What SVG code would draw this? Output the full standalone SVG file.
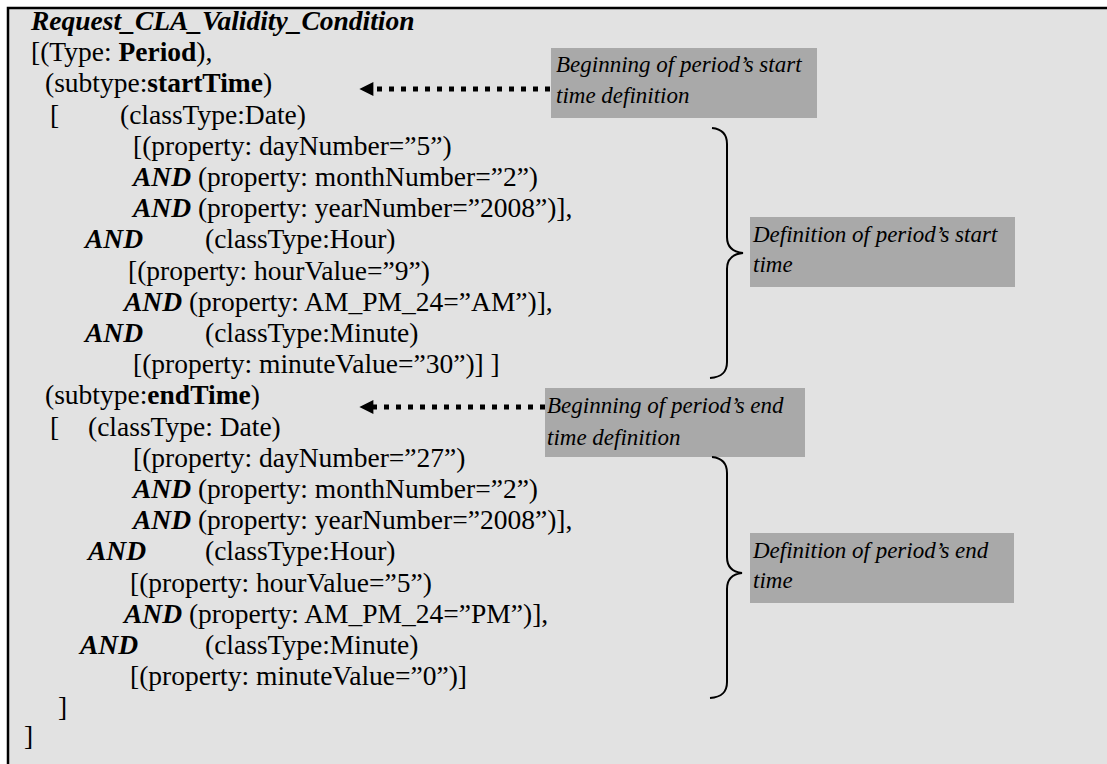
<svg xmlns="http://www.w3.org/2000/svg" width="1107" height="764" viewBox="0 0 1107 764">
  <style>
    .code { font-family: "Liberation Serif", "Times New Roman", serif; font-size: 27.5px; fill: #000; }
    .b { font-weight: bold; }
    .bi { font-weight: bold; font-style: italic; }
    .note { font-family: "Liberation Serif", "Times New Roman", serif; font-size: 23px; font-style: italic; fill: #000; }
    .notebox { fill: #a9a9a9; }
    .brace { fill: none; stroke: #000; stroke-width: 2; }
    .dots { stroke: #000; stroke-width: 5; stroke-dasharray: 5 7; }
  </style>
  <defs>
    <marker id="head" viewBox="0 0 10 10" refX="1" refY="5" markerWidth="3.6" markerHeight="2.8" markerUnits="strokeWidth" orient="auto-start-reverse">
      <path d="M0,0 L10,5 L0,10 Z" fill="#000"/>
    </marker>
  </defs>

  <!-- page -->
  <rect x="0" y="0" width="1107" height="764" fill="#fff"/>
  <rect x="8" y="8" width="1099" height="756" fill="#e2e2e2"/>
  <path d="M8,764 L8,8 L1107,8" fill="none" stroke="#000" stroke-width="2.5"/>

  <!-- condition listing -->
  <g id="condition" class="code">
    <text x="31" y="30" class="bi">Request_CLA_Validity_Condition</text>
    <text x="31" y="61.2">[(Type: <tspan class="b">Period</tspan>),</text>
    <text x="45" y="92.4">(subtype:<tspan class="b">startTime</tspan>)</text>
    <text x="50" y="123.6">[</text>
    <text x="120" y="123.6">(classType:Date)</text>
    <text x="133" y="154.8">[(property: dayNumber=”5”)</text>
    <text x="133" y="186"><tspan class="bi">AND</tspan> (property: monthNumber=”2”)</text>
    <text x="133" y="217.2"><tspan class="bi">AND</tspan> (property: yearNumber=”2008”)],</text>
    <text x="85" y="248.4" class="bi">AND</text>
    <text x="205" y="248.4">(classType:Hour)</text>
    <text x="128" y="279.6">[(property: hourValue=”9”)</text>
    <text x="124" y="310.8"><tspan class="bi">AND</tspan> (property: AM_PM_24=”AM”)],</text>
    <text x="85" y="342" class="bi">AND</text>
    <text x="205" y="342">(classType:Minute)</text>
    <text x="133" y="373.2">[(property: minuteValue=”30”)] ]</text>
    <text x="45" y="404.4">(subtype:<tspan class="b">endTime</tspan>)</text>
    <text x="50" y="435.6">[</text>
    <text x="88" y="435.6">(classType: Date)</text>
    <text x="133" y="466.8">[(property: dayNumber=”27”)</text>
    <text x="133" y="498"><tspan class="bi">AND</tspan> (property: monthNumber=”2”)</text>
    <text x="133" y="529.2"><tspan class="bi">AND</tspan> (property: yearNumber=”2008”)],</text>
    <text x="88" y="560.4" class="bi">AND</text>
    <text x="205" y="560.4">(classType:Hour)</text>
    <text x="130" y="591.6">[(property: hourValue=”5”)</text>
    <text x="124" y="622.8"><tspan class="bi">AND</tspan> (property: AM_PM_24=”PM”)],</text>
    <text x="80" y="654" class="bi">AND</text>
    <text x="205" y="654">(classType:Minute)</text>
    <text x="130" y="685.2">[(property: minuteValue=”0”)]</text>
    <text x="58" y="716.4">]</text>
    <text x="24" y="745">]</text>
  </g>

  <!-- annotations -->
  <g id="note-start-begin">
    <rect class="notebox" x="551" y="48" width="266" height="70"/>
    <text class="note" x="556" y="72">Beginning of period’s start</text>
    <text class="note" x="556" y="103">time definition</text>
  </g>
  <g id="note-start-def">
    <rect class="notebox" x="750" y="217" width="265" height="70"/>
    <text class="note" x="753" y="242">Definition of period’s start</text>
    <text class="note" x="753" y="272">time</text>
  </g>
  <g id="note-end-begin">
    <rect class="notebox" x="545" y="388" width="260" height="69"/>
    <text class="note" x="547" y="413">Beginning of period’s end</text>
    <text class="note" x="547" y="445">time definition</text>
  </g>
  <g id="note-end-def">
    <rect class="notebox" x="750" y="533" width="264" height="70"/>
    <text class="note" x="753" y="558">Definition of period’s end</text>
    <text class="note" x="753" y="588">time</text>
  </g>

  <!-- arrows and braces -->
  <g id="connectors">
    <line class="dots" x1="550" y1="89" x2="372" y2="89" marker-end="url(#head)"/>
    <line class="dots" x1="545" y1="407" x2="372" y2="407" marker-end="url(#head)"/>
    <path class="brace" d="M712,128 C722,129 727,134 727,144 L727,237 C727,247 733,252 743,253 C733,254 727,259 727,269 L727,362 C727,372 722,377 710,378"/>
    <path class="brace" d="M712,457 C722,458 727,463 727,473 L727,557 C727,567 733,572 742,573 C733,574 727,579 727,589 L727,682 C727,692 722,697 710,698"/>
  </g>
</svg>
